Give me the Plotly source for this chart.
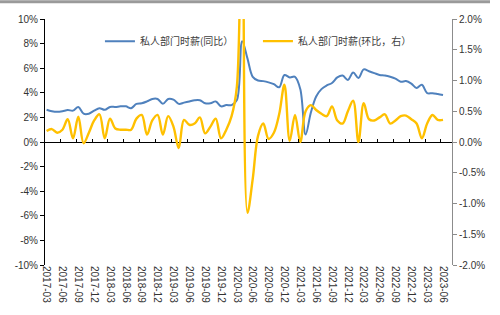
import plotly.graph_objects as go

# Monthly observations, 2017-03 .. 2023-06
months = []
y, m = 2017, 3
while (y, m) <= (2023, 6):
    months.append(f"{y}-{m:02d}")
    m += 1
    if m > 12:
        y, m = y + 1, 1

# Private-sector hourly earnings, year-over-year (%), left axis
wage_yoy = [
    2.62, 2.50, 2.45, 2.50, 2.60, 2.55, 2.85, 2.30, 2.30, 2.55,
    2.75, 2.62, 2.85, 2.85, 2.90, 2.90, 2.75, 3.10, 3.15, 3.30,
    3.50, 3.50, 3.10, 3.50, 3.45, 3.10, 3.20, 3.30, 3.40, 3.40,
    3.15, 3.15, 3.30, 2.90, 3.00, 3.00, 3.40, 8.20, 6.80, 5.30,
    5.00, 4.95, 4.85, 4.70, 4.45, 5.45, 5.25, 5.30, 4.30, 0.60,
    2.40, 3.70, 4.30, 4.60, 4.80, 5.25, 5.40, 5.05, 5.65, 5.20,
    5.90, 5.75, 5.60, 5.45, 5.40, 5.30, 5.15, 4.90, 4.95, 4.75,
    4.40, 4.65, 3.98, 3.97, 3.90, 3.82,
]

# Private-sector hourly earnings, month-over-month (%), right axis
wage_mom = [
    0.18, 0.21, 0.15, 0.20, 0.37, 0.06, 0.41, -0.02, 0.15, 0.35,
    0.45, 0.06, 0.38, 0.22, 0.20, 0.20, 0.20, 0.38, 0.44, 0.12,
    0.35, 0.44, 0.12, 0.42, 0.25, -0.10, 0.36, 0.28, 0.30, 0.40,
    0.14, 0.25, 0.38, 0.06, 0.20, 0.42, 0.90, 4.70, -1.15, -0.60,
    0.10, 0.30, 0.05, 0.15, 0.45, 0.93, 0.02, 0.44, 0.00, 0.50,
    0.60, 0.52, 0.46, 0.42, 0.58, 0.35, 0.30, 0.50, 0.67, 0.00,
    0.63, 0.37, 0.35, 0.40, 0.45, 0.30, 0.35, 0.42, 0.43, 0.37,
    0.30, 0.06, 0.30, 0.44, 0.36, 0.36,
]

series_names = ["私人部门时薪(同比）", "私人部门时薪(环比，右）"]
left_ticks = list(range(-10, 11, 2))
right_ticks = [-2.0, -1.5, -1.0, -0.5, 0.0, 0.5, 1.0, 1.5, 2.0]

BLUE = "#4F81BD"
GOLD = "#FFC000"
TICK_FONT = dict(family="Liberation Sans, Arial, sans-serif", size=10, color="#333333")

x_range = [-0.3, len(months) + 0.7]
label_months = months[::3]
tick_marks = [i + 2.6 for i in range(0, len(months), 3)]

fig = go.Figure()
fig.add_trace(go.Scatter(
    x=months, y=wage_yoy, name=series_names[0], mode="lines",
    line=dict(color=BLUE, width=2, shape="spline", smoothing=1.0),
    yaxis="y",
))
fig.add_trace(go.Scatter(
    x=months, y=wage_mom, name=series_names[1], mode="lines",
    line=dict(color=GOLD, width=2.4, shape="spline", smoothing=1.0),
    yaxis="y2",
))
# carrier for the tick-mark axis sitting on the zero line
fig.add_trace(go.Scatter(
    x=[0], y=[None], mode="lines", xaxis="x2", yaxis="y",
    showlegend=False, hoverinfo="skip",
))

fig.update_layout(
    width=500, height=315,
    margin=dict(l=45, r=48, t=19, b=46),
    paper_bgcolor="white", plot_bgcolor="white",
    showlegend=True,
    legend=dict(
        orientation="h", x=0.135, y=0.969, xanchor="left", yanchor="top",
        font=dict(family="Noto Sans CJK SC", size=10, color="#404040"),
        bgcolor="rgba(0,0,0,0)", entrywidth=113, entrywidthmode="pixels",
        itemwidth=30, tracegroupgap=0,
    ),
    xaxis=dict(
        type="category", range=x_range,
        tickmode="array", tickvals=label_months, ticktext=label_months,
        tickangle=90, tickfont=TICK_FONT,
        showgrid=False, zeroline=False, showline=False, ticks="",
    ),
    xaxis2=dict(
        overlaying="x", anchor="free", position=0.5, range=x_range,
        tickmode="array", tickvals=tick_marks, ticks="inside", ticklen=3,
        tickcolor="#000000", showticklabels=False, showgrid=False,
        zeroline=False, showline=False,
    ),
    yaxis=dict(
        range=[-10, 10], tickmode="array", tickvals=left_ticks,
        ticktext=[f"{v}%" for v in left_ticks], tickfont=TICK_FONT,
        showgrid=False, zeroline=True, zerolinecolor="#000000", zerolinewidth=1,
        showline=True, linecolor="#000000", linewidth=1,
        ticks="outside", ticklen=4, tickcolor="#000000",
    ),
    yaxis2=dict(
        overlaying="y", side="right", range=[-2, 2], tickmode="array",
        tickvals=right_ticks, ticktext=[f"{v:.1f}%" for v in right_ticks],
        tickfont=TICK_FONT, showgrid=False, zeroline=False,
        showline=True, linecolor="#8C8C8C", linewidth=1,
        ticks="outside", ticklen=4, tickcolor="#8C8C8C",
    ),
    shapes=[dict(
        type="line", xref="paper", yref="paper",
        x0=-45 / 407, x1=445 / 407, y0=1 + 17.5 / 250, y1=1 + 17.5 / 250,
        line=dict(color="#9A9A9A", width=3),
    )],
)

fig.write_html("out.html")
